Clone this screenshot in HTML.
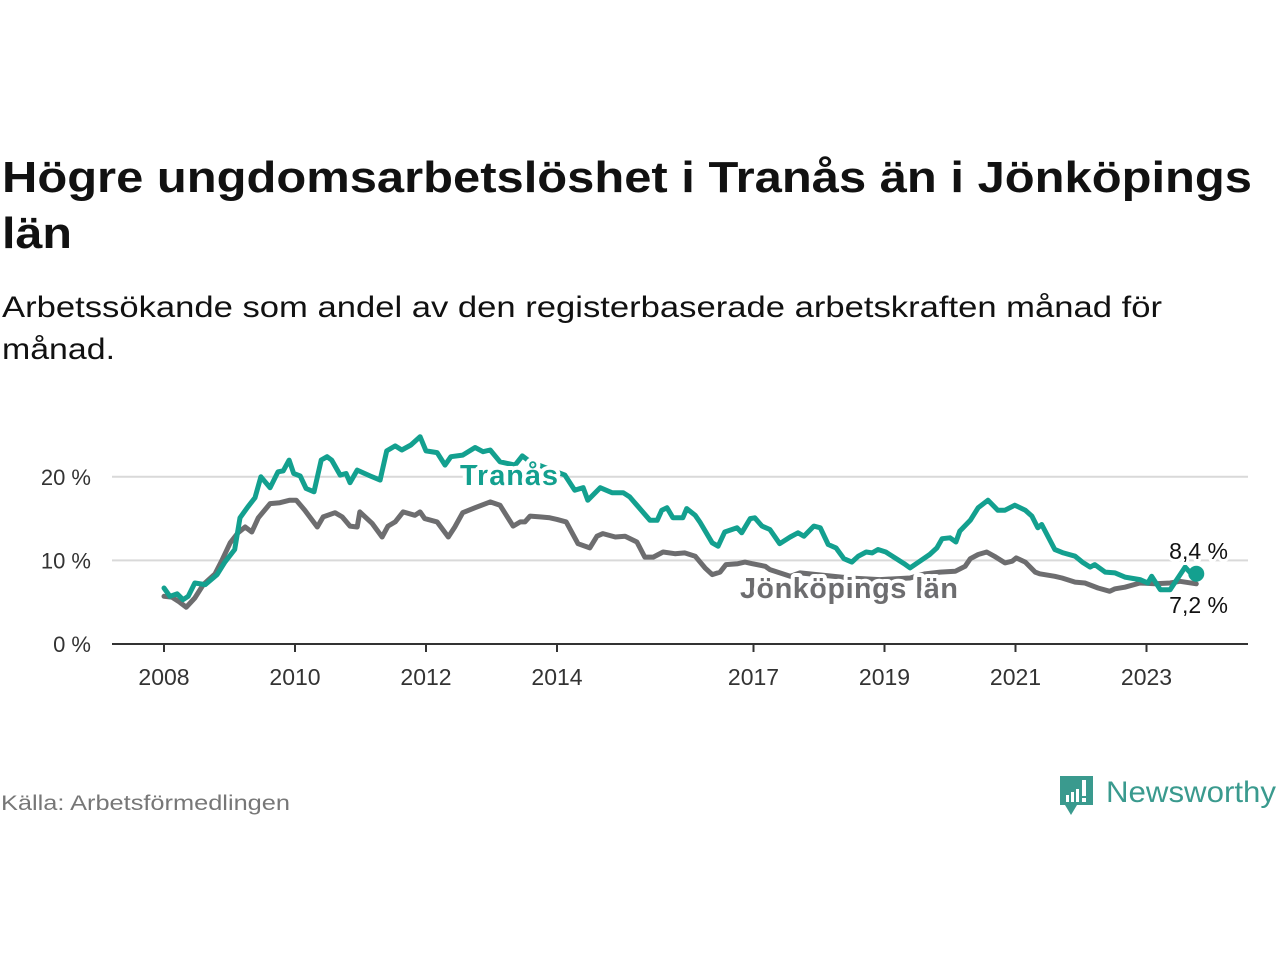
<!DOCTYPE html>
<html><head><meta charset="utf-8"><style>
html,body{margin:0;padding:0;background:#fff;}
svg{display:block;font-family:"Liberation Sans",sans-serif;}
.halo{paint-order:stroke;stroke:#fff;stroke-linejoin:round;}
</style></head><body>
<svg id="chart" width="1280" height="960" viewBox="0 0 1280 960">
<text x="2" y="192" font-size="44" font-weight="bold" fill="#111" textLength="1250" lengthAdjust="spacingAndGlyphs">Högre ungdomsarbetslöshet i Tranås än i Jönköpings</text>
<text x="2" y="248" font-size="44" font-weight="bold" fill="#111" textLength="70" lengthAdjust="spacingAndGlyphs">län</text>
<text x="2" y="317" font-size="30" fill="#111" textLength="1160" lengthAdjust="spacingAndGlyphs">Arbetssökande som andel av den registerbaserade arbetskraften månad för</text>
<text x="2" y="359" font-size="30" fill="#111" textLength="113" lengthAdjust="spacingAndGlyphs">månad.</text>
<g id="grid"></g>
<g id="yticks"></g>
<g id="xticks"></g>
<g id="lines"></g>
<text x="1" y="810" font-size="21" fill="#777" textLength="289" lengthAdjust="spacingAndGlyphs">Källa: Arbetsförmedlingen</text>
<g>
<path d="M1060 776 h33 v29 h-16 l-6 10 l-6-10 h-5 z" fill="#3a9a8e"/>
<rect x="1066" y="795" width="3" height="7" fill="#fff"/><rect x="1071" y="792" width="3" height="10" fill="#fff"/><rect x="1076" y="789" width="3" height="13" fill="#fff"/><rect x="1082" y="780" width="4" height="16" fill="#fff"/><rect x="1082" y="798" width="4" height="4" fill="#fff"/>
<text x="1106" y="802" font-size="30" fill="#3a9a8e" textLength="170" lengthAdjust="spacingAndGlyphs">Newsworthy</text>
</g>
</svg>
<script>
const yTicks=[0,10,20];
const yTickLabels=["0 %","10 %","20 %"];
const xTicks=[2008,2010,2012,2014,2017,2019,2021,2023];
const tranasDates=[0,.09,.20,.29,.37,.47,.63,.81,.93,1.08,1.16,1.28,1.39,1.48,1.62,1.74,1.82,1.91,1.98,2.08,2.17,2.29,2.40,2.49,2.56,2.69,2.78,2.84,2.95,3.15,3.30,3.40,3.53,3.63,3.77,3.91,4.00,4.17,4.29,4.38,4.56,4.75,4.87,4.98,5.13,5.36,5.47,5.59,6.12,6.27,6.40,6.47,6.66,6.84,7.01,7.11,7.22,7.42,7.53,7.60,7.68,7.77,7.92,7.98,8.11,8.18,8.37,8.46,8.56,8.75,8.82,8.95,9.02,9.13,9.25,9.40,9.56,9.68,9.77,9.92,10.02,10.14,10.26,10.38,10.50,10.60,10.72,10.81,10.90,11.02,11.16,11.30,11.39,11.54,11.69,11.80,11.88,12.00,12.09,12.15,12.31,12.43,12.58,12.73,12.84,12.99,13.15,13.25,13.34,13.40,13.60,13.73,13.91,14.02,14.14,14.21,14.37,14.52,14.67,14.90,15.02,15.08,15.21,15.36,15.59,15.66,15.76];
const tranasValues=[6.7,5.7,6.0,5.3,5.7,7.3,7.1,8.3,9.8,11.3,15.1,16.4,17.5,20.0,18.7,20.6,20.7,22.0,20.4,20.1,18.6,18.2,22.0,22.4,22.0,20.2,20.4,19.3,20.8,20.1,19.6,23.1,23.7,23.2,23.8,24.8,23.1,22.9,21.4,22.4,22.6,23.5,23.0,23.2,21.8,21.4,22.5,21.8,20.2,18.4,18.7,17.2,18.7,18.1,18.1,17.6,16.6,14.8,14.8,16.0,16.3,15.1,15.1,16.2,15.4,14.6,12.1,11.7,13.4,13.9,13.3,15.0,15.1,14.1,13.7,12.0,12.8,13.3,12.9,14.1,13.9,11.9,11.5,10.2,9.8,10.5,11.0,10.9,11.3,11.0,10.3,9.6,9.1,9.9,10.7,11.5,12.6,12.7,12.2,13.5,14.8,16.3,17.2,16.0,16.0,16.6,16.0,15.3,13.9,14.3,11.3,10.9,10.5,9.8,9.2,9.5,8.6,8.5,8.0,7.7,7.3,8.1,6.5,6.5,9.2,8.6,8.4];
const jkpDates=[0,.12,.24,.34,.47,.60,.78,.89,1.01,1.13,1.24,1.34,1.44,1.62,1.77,1.92,2.02,2.15,2.34,2.43,2.61,2.72,2.84,2.95,2.99,3.18,3.33,3.42,3.53,3.65,3.83,3.91,3.98,4.17,4.34,4.44,4.56,4.75,4.98,5.13,5.33,5.44,5.51,5.59,5.74,5.89,6.00,6.14,6.32,6.50,6.61,6.70,6.89,7.04,7.22,7.34,7.47,7.62,7.80,7.95,8.11,8.26,8.37,8.49,8.58,8.76,8.87,8.98,9.18,9.25,9.56,9.71,10.47,10.93,11.39,11.62,11.85,12.08,12.23,12.31,12.43,12.56,12.70,12.84,12.95,13.01,13.15,13.30,13.37,13.60,13.71,13.91,14.06,14.26,14.44,14.52,14.67,14.90,15.13,15.36,15.51,15.76];
const jkpValues=[5.7,5.6,5.0,4.4,5.5,7.1,8.4,10.1,12.1,13.3,14.0,13.4,15.1,16.8,16.9,17.2,17.2,16.0,14.0,15.2,15.7,15.2,14.1,14.0,15.8,14.4,12.8,14.1,14.6,15.8,15.4,15.8,15.0,14.6,12.8,14.0,15.7,16.3,17.0,16.6,14.1,14.6,14.6,15.3,15.2,15.1,14.9,14.6,12.0,11.5,12.9,13.2,12.8,12.9,12.2,10.4,10.4,11.0,10.8,10.9,10.5,9.1,8.3,8.6,9.5,9.6,9.8,9.6,9.3,8.9,8.1,8.5,7.9,7.7,7.9,8.4,8.6,8.7,9.3,10.2,10.7,11.0,10.4,9.7,9.9,10.3,9.8,8.6,8.4,8.1,7.9,7.4,7.3,6.7,6.3,6.6,6.8,7.3,7.2,7.3,7.5,7.2];
const NS="http://www.w3.org/2000/svg";
const X0=164,PXY=65.5,Y0=644,PXV=8.36;
function xs(yr){return X0+(yr-2008)*PXY;}
function xo(off){return X0+off*PXY;}
function ys(v){return Y0-v*PXV;}
function mk(tag,attrs,parent,text){const e=document.createElementNS(NS,tag);for(const k in attrs)e.setAttribute(k,attrs[k]);if(text!==undefined)e.textContent=text;parent.appendChild(e);return e;}
const grid=document.getElementById('grid'),yt=document.getElementById('yticks'),xt=document.getElementById('xticks'),ln=document.getElementById('lines');
yTicks.forEach((v,i)=>{
  if(v>0){const g=mk('line',{x1:112,x2:1248,y1:ys(v),y2:ys(v),stroke:'#d9d9d9','stroke-width':2},grid);
  
  }
  const t=mk('text',{x:91,y:ys(v)+8,'font-size':22,fill:'#333','text-anchor':'end'},yt,yTickLabels[i]);
  
  
});
const ax=mk('line',{x1:112,x2:1248,y1:Y0,y2:Y0,stroke:'#333','stroke-width':2},xt);


xTicks.forEach(yr=>{
  const tk=mk('line',{x1:xs(yr),x2:xs(yr),y1:Y0,y2:Y0+8,stroke:'#333','stroke-width':2},xt);
  
  
  const t=mk('text',{x:xs(yr),y:685,'font-size':23,fill:'#333','text-anchor':'middle'},xt,String(yr));
  
  
});
function path(d,v){return d.map((o,i)=>(i?'L':'M')+xo(o).toFixed(1)+' '+ys(v[i]).toFixed(1)).join(' ');}
const pj=mk('path',{d:path(jkpDates,jkpValues),fill:'none',stroke:'#6d6d6f','stroke-width':5,'stroke-linejoin':'round','stroke-linecap':'round'},ln);


const pt=mk('path',{d:path(tranasDates,tranasValues),fill:'none',stroke:'#13a08f','stroke-width':5,'stroke-linejoin':'round','stroke-linecap':'round'},ln);


const lt=tranasDates.length-1,lj=jkpDates.length-1;
const dot=mk('circle',{cx:xo(tranasDates[lt]),cy:ys(tranasValues[lt]),r:8,fill:'#13a08f'},ln);


const l1=mk('text',{x:460,y:485,'font-size':29,'font-weight':'bold',fill:'#13a08f',class:'halo','stroke-width':8,textLength:98},ln,'Tranås');


const l2=mk('text',{x:740,y:598,'font-size':29,'font-weight':'bold',fill:'#6d6d6f',class:'halo','stroke-width':8,textLength:218},ln,'Jönköpings län');


const e1=mk('text',{x:1228,y:ys(tranasValues[lt])-15,'font-size':23,fill:'#111','text-anchor':'end',class:'halo','stroke-width':6},ln,tranasValues[lt].toFixed(1).replace('.',',')+' %');


const e2=mk('text',{x:1228,y:ys(jkpValues[lj])+29,'font-size':23,fill:'#111','text-anchor':'end',class:'halo','stroke-width':6},ln,jkpValues[lj].toFixed(1).replace('.',',')+' %');


</script>
</body></html>
